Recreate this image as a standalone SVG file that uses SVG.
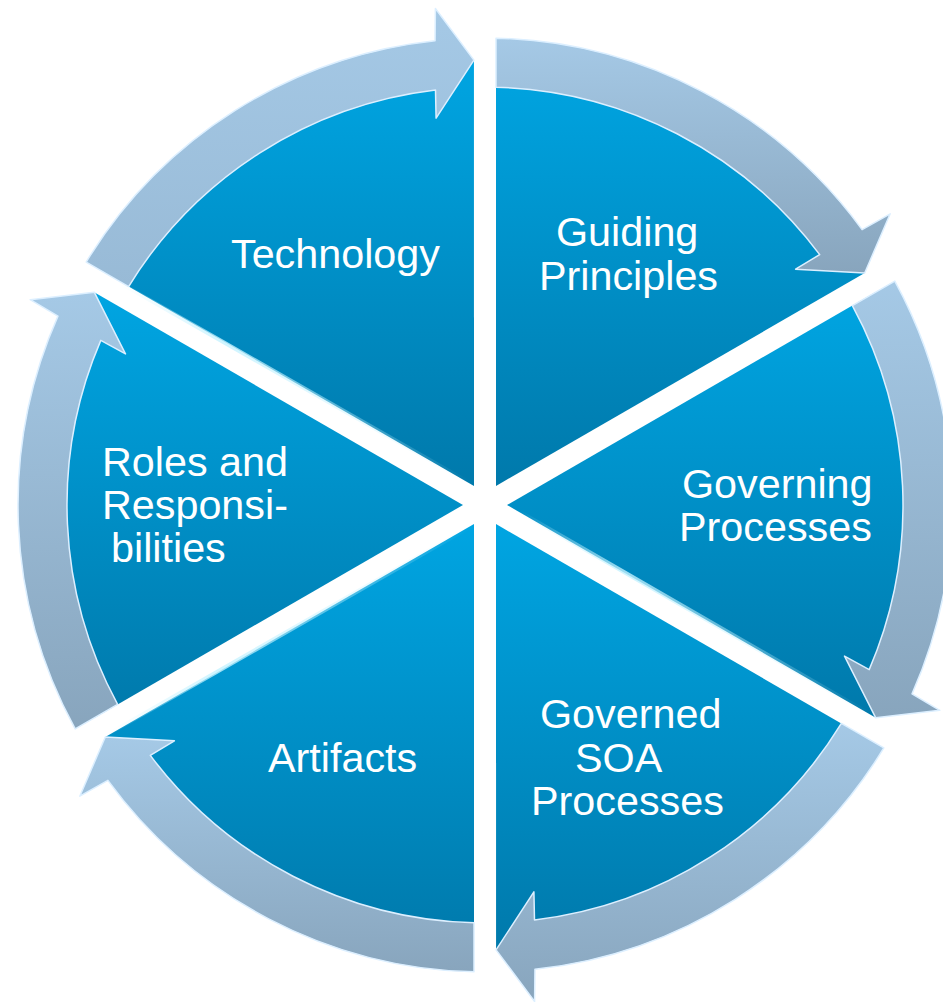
<svg xmlns="http://www.w3.org/2000/svg" width="943" height="1002" viewBox="0 0 943 1002">
<defs>
<linearGradient id="wedgeGrad" x1="0" y1="0" x2="0" y2="1">
<stop offset="0" stop-color="#00a5e2"/>
<stop offset="1" stop-color="#0079ab"/>
</linearGradient>
<linearGradient id="bandGrad" x1="0" y1="0" x2="0" y2="1">
<stop offset="0" stop-color="#a5c9e6"/>
<stop offset="1" stop-color="#88a5bd"/>
</linearGradient>
<linearGradient id="bandGradLight" x1="0" y1="0" x2="0" y2="1">
<stop offset="0" stop-color="#a5c9e6"/>
<stop offset="1" stop-color="#98bad6"/>
</linearGradient>
<linearGradient id="glint" x1="0" y1="0" x2="1" y2="0">
<stop offset="0" stop-color="#c4f2ff" stop-opacity="0"/>
<stop offset="0.3" stop-color="#c4f2ff" stop-opacity="0.95"/>
<stop offset="1" stop-color="#c4f2ff" stop-opacity="0"/>
</linearGradient>
</defs>
<style>
.wedge{fill:url(#wedgeGrad);}
.band{fill:url(#bandGrad);stroke:#dcefff;stroke-width:1.5;stroke-linejoin:round;}
.lbl{font-family:"Liberation Sans",Arial,sans-serif;font-size:41.3px;fill:#ffffff;}
.gl{stroke:url(#glint);stroke-width:4;fill:none;stroke-linecap:round;}
</style>
<rect width="943" height="1002" fill="#ffffff"/>

<g id="node-guiding">
<path class="wedge" d="M496,485.95 L496,60.14 A445,445 0 0 1 864.7,273 Z"/>
<text class="lbl" x="556" y="246">Guiding</text>
<text class="lbl" x="539" y="290">Principles</text>
</g>
<g id="node-governing">
<path class="wedge" d="M507,505 L875.76,292.1 A445,445 0 0 1 875.77,717.83 Z"/>
<text class="lbl" x="682" y="498">Governing</text>
<text class="lbl" x="679" y="541">Processes</text>
</g>
<g id="node-governed">
<path class="wedge" d="M496,524.05 L864.76,736.96 A445,445 0 0 1 496.07,949.83 Z"/>
<text class="lbl" x="540" y="728">Governed</text>
<text class="lbl" x="575" y="772">SOA</text>
<text class="lbl" x="531" y="815">Processes</text>
</g>
<g id="node-artifacts">
<path class="wedge" d="M474,524.05 L474,949.86 A445,445 0 0 1 105.3,737 Z"/>
<text class="lbl" x="268" y="772">Artifacts</text>
</g>
<g id="node-roles">
<path class="wedge" d="M463,505 L94.24,717.9 A445,445 0 0 1 94.23,292.17 Z"/>
<text class="lbl" x="102" y="476">Roles and</text>
<text class="lbl" x="102" y="519">Responsi-</text>
<text class="lbl" x="111" y="562">bilities</text>
</g>
<g id="node-technology">
<path class="wedge" d="M474,485.95 L105.24,273.04 A445,445 0 0 1 473.93,60.17 Z"/>
<text class="lbl" x="231" y="268">Technology</text>
</g>

<g id="highlights" opacity="0.85">
<line class="gl" x1="120" y1="283" x2="470" y2="483"/>
<line class="gl" x1="520" y1="512" x2="870" y2="714"/>
<line class="gl" x1="110" y1="733" x2="470" y2="527"/>
</g>

<g id="connectors">
<path class="band" d="M496,38.13 A467,467 0 0 1 862.1,229.6 L890.2,213.8 L864.7,273 L795.6,269.2 L819.7,254.6 A418,418 0 0 0 496,87.15 Z"/>
<path class="band" d="M894.82,281.09 A467,467 0 0 1 912.05,693.88 L939.79,710.32 L875.77,717.83 L844.51,656.09 L869.2,669.66 A418,418 0 0 0 852.37,305.6 Z"/>
<path class="band" d="M883.82,747.97 A467,467 0 0 1 534.95,969.28 L534.59,1001.52 L496.07,949.83 L533.91,891.89 L534.5,920.06 A418,418 0 0 0 841.37,723.46 Z"/>
<path class="band" d="M474,971.87 A467,467 0 0 1 107.9,780.4 L79.8,796.2 L105.3,737 L174.4,740.8 L150.3,755.4 A418,418 0 0 0 474,922.85 Z"/>
<path class="band" d="M75.18,728.91 A467,467 0 0 1 57.95,316.12 L30.21,299.68 L94.23,292.17 L125.49,353.91 L100.8,340.34 A418,418 0 0 0 117.63,704.4 Z"/>
<path class="band" style="fill:url(#bandGradLight)" d="M86.18,262.03 A467,467 0 0 1 435.05,40.72 L435.41,8.48 L473.93,60.17 L436.09,118.11 L435.5,89.94 A418,418 0 0 0 128.63,286.54 Z"/>
</g>
</svg>
